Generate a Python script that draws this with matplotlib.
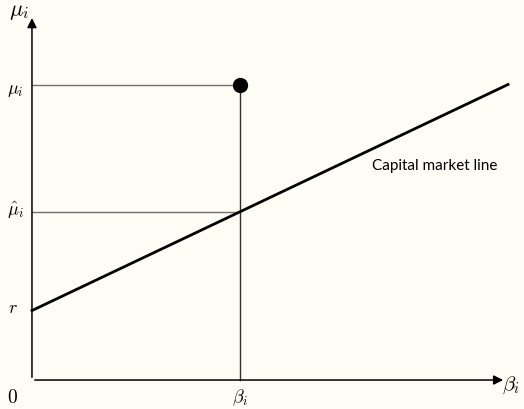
import numpy as np
import matplotlib
matplotlib.use("Agg")
import matplotlib.pyplot as plt

plt.rcParams['mathtext.fontset'] = 'cm'

# valores del modelo (unidades arbitrarias)
r = 1.0            # tasa libre de riesgo
beta_i = 3.0       # beta del activo
pendiente = 0.475  # pendiente de la línea de mercado
mu_i = 4.25        # rendimiento esperado del activo
beta_max = 6.85    # fin de la línea dibujada
mu_hat = r + pendiente * beta_i

fondo = '#fdfdf6'
fig = plt.figure(figsize=(5.24, 4.09), dpi=100, facecolor=fondo)
ax = fig.add_axes([0, 0, 1, 1])
ax.set_facecolor(fondo)
ax.set_xlim(-0.46, 7.08)
ax.set_ylim(-0.417, 5.47)
ax.axis('off')

# ejes con flechas
ax.annotate('', xy=(6.82, 0), xytext=(0, 0),
            arrowprops=dict(arrowstyle='-|>', color='black', lw=1.1, mutation_scale=14))
ax.annotate('', xy=(0, 5.25), xytext=(0, 0),
            arrowprops=dict(arrowstyle='-|>', color='black', lw=1.1, mutation_scale=14))

# líneas guía
ax.plot([0, beta_i], [mu_i, mu_i], color='#707070', lw=1.0)
ax.plot([0, beta_i], [mu_hat, mu_hat], color='#707070', lw=1.0)
ax.plot([beta_i, beta_i], [0, mu_i], color='#303030', lw=1.0)

# línea del mercado de capitales
xs = np.array([0, beta_max])
ax.plot(xs, r + pendiente * xs, color='black', lw=2.0)
ax.text(4.89, 3.08, 'Capital market line', fontsize=11, family='Lato',
        ha='left', va='center')

# el activo
ax.plot([beta_i], [mu_i], 'o', color='black', markersize=10, zorder=5)

# etiquetas
ax.text(-0.19, 5.3, r'$\mu_i$', fontsize=16, ha='center', va='center')
ax.text(6.9, -0.08, r'$\beta_i$', fontsize=15, ha='center', va='center')
ax.text(-0.24, mu_i - 0.08, r'$\mu_i$', fontsize=13, ha='center', va='center')
ax.text(-0.24, mu_hat + 0.02, r'$\hat{\mu}_i$', fontsize=13, ha='center', va='center')
ax.text(-0.28, r + 0.04, r'$r$', fontsize=13, ha='center', va='center')
ax.text(-0.28, -0.25, r'$0$', fontsize=14, ha='center', va='center')
ax.text(beta_i, -0.26, r'$\beta_i$', fontsize=13, ha='center', va='center')

fig.savefig('out.png', dpi=100, facecolor=fondo)
